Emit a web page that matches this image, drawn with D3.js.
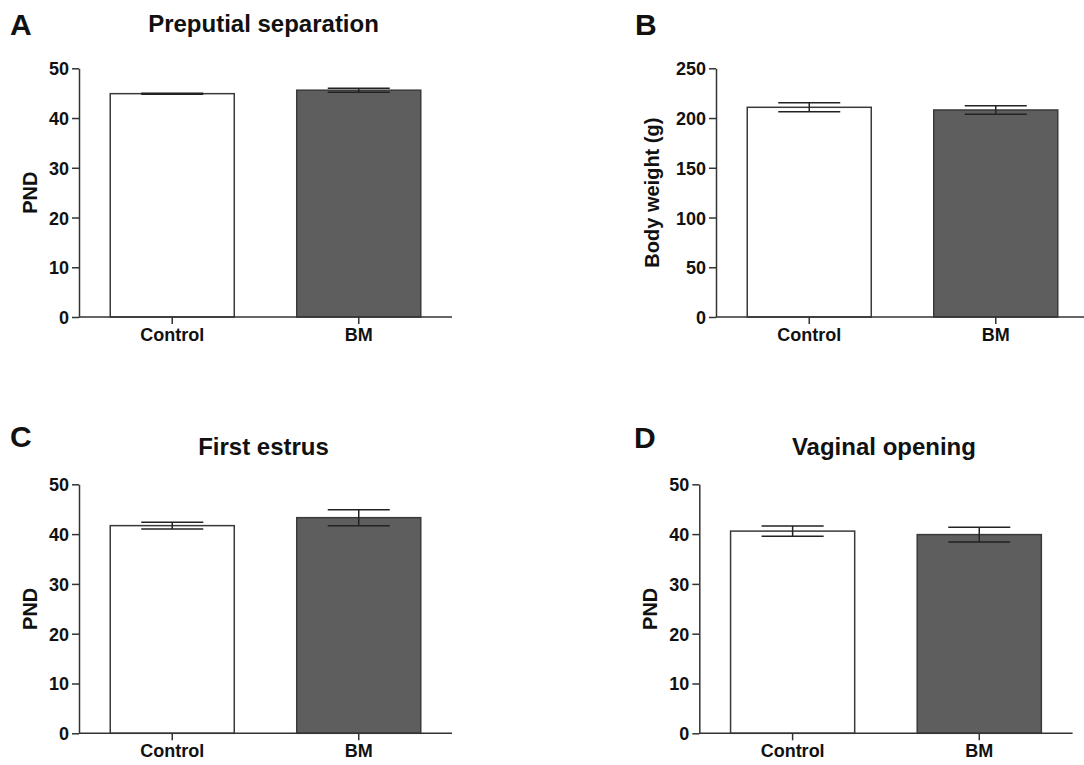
<!DOCTYPE html>
<html>
<head>
<meta charset="utf-8">
<script src="https://cdn.jsdelivr.net/npm/d3@7"></script>
<style>
  body { margin: 0; background: #fff; }
  text { font-family: "Liberation Sans", Arial, sans-serif; font-weight: bold; fill: #111; }
</style>
</head>
<body>
<svg id="chart" width="1084" height="765"></svg>
<script>
// data
var groups = ["Control", "BM"];
var letters = ["A", "B", "C", "D"];
var titles = ["Preputial separation", "", "First estrus", "Vaginal opening"];
var yLabels = ["PND", "Body weight (g)", "PND", "PND"];
var yMax = [50, 250, 50, 50];
var yStep = [10, 50, 10, 10];

var prepMean = [44.9, 45.6], prepSem = [0.1, 0.4];
var weightMean = [210.8, 208.1], weightSem = [4.6, 4.2];
var estrusMean = [41.7, 43.3], estrusSem = [0.7, 1.6];
var vaginalMean = [40.6, 39.9], vaginalSem = [1.05, 1.5];

var means = [prepMean, weightMean, estrusMean, vaginalMean];
var sems = [prepSem, weightSem, estrusSem, vaginalSem];
var fills = ["#ffffff", "#5e5e5e"];

/* panel layout: axis origin and extents */
var layout = [
  { x0: 79,    x1: 452,    y0: 68.3,  y1: 317,   lx: 10,  ly: 35,  ty: 32,  yl: 49 },
  { x0: 716,   x1: 1089,   y0: 68.3,  y1: 317,   lx: 635, ly: 35,  ty: 32,  yl: 64 },
  { x0: 79,    x1: 452,    y0: 484.3, y1: 733.3, lx: 10,  ly: 447, ty: 455, yl: 49 },
  { x0: 699.3, x1: 1072.6, y0: 484.3, y1: 733.3, lx: 634, ly: 448, ty: 455, yl: 49 }
];

var svg = d3.select("#chart");

layout.forEach(function(p, i) {
  var g = svg.append("g");

  var x = d3.scaleBand().domain(groups).range([p.x0, p.x1]).paddingInner(0.335).paddingOuter(0.1675);
  var y = d3.scaleLinear().domain([0, yMax[i]]).range([p.y1, p.y0]);

  var rows = groups.map(function(k, j) {
    return { name: k, mean: means[i][j], sem: sems[i][j], fill: fills[j] };
  });

  // bars
  g.selectAll("rect.bar")
    .data(rows)
    .enter().append("rect")
    .attr("class", "bar")
    .attr("x", function(d) { return x(d.name); })
    .attr("y", function(d) { return y(d.mean); })
    .attr("width", x.bandwidth())
    .attr("height", function(d) { return y(0) - y(d.mean); })
    .style("fill", function(d) { return d.fill; })
    .style("stroke", "#3a3a3a")
    .style("stroke-width", 1.5);

  // error bars
  var bw = x.bandwidth();
  var eb = g.selectAll("g.err").data(rows).enter().append("g").attr("class", "err")
    .style("stroke", "#222").style("stroke-width", 1.5);
  eb.append("line")
    .attr("x1", function(d) { return x(d.name) + bw / 2; })
    .attr("x2", function(d) { return x(d.name) + bw / 2; })
    .attr("y1", function(d) { return y(d.mean - d.sem); })
    .attr("y2", function(d) { return y(d.mean + d.sem); });
  [-1, 1].forEach(function(s) {
    eb.append("line")
      .attr("x1", function(d) { return x(d.name) + bw / 4; })
      .attr("x2", function(d) { return x(d.name) + bw * 3 / 4; })
      .attr("y1", function(d) { return y(d.mean + s * d.sem); })
      .attr("y2", function(d) { return y(d.mean + s * d.sem); });
  });

  // axes
  var yAxis = d3.axisLeft(y)
    .tickValues(d3.range(0, yMax[i] + 1, yStep[i]))
    .tickSize(7).tickSizeOuter(0).tickPadding(3);
  var ya = g.append("g").attr("transform", "translate(" + p.x0 + ",0)").call(yAxis);
  ya.selectAll("text").style("font-size", "18px").attr("dy", "0.36em");

  var xAxis = d3.axisBottom(x).tickSize(7).tickSizeOuter(0).tickPadding(4);
  var xa = g.append("g").attr("transform", "translate(0," + p.y1 + ")").call(xAxis);
  xa.selectAll("text").style("font-size", "18px");
  xa.select(".domain").attr("d", "M" + p.x0 + ",0H" + p.x1);

  svg.selectAll(".domain, .tick line").style("stroke", "#333").style("stroke-width", 1.5);

  // y label
  g.append("text")
    .attr("transform", "translate(" + (p.x0 - p.yl) + "," + ((p.y0 + p.y1) / 2) + ") rotate(-90)")
    .attr("text-anchor", "middle")
    .attr("dy", "0.35em")
    .style("font-size", "20px")
    .text(yLabels[i]);

  // title
  g.append("text")
    .attr("x", (p.x0 + p.x1) / 2 - 2)
    .attr("y", p.ty)
    .attr("text-anchor", "middle")
    .style("font-size", "24px")
    .text(titles[i]);

  // panel letter
  g.append("text")
    .attr("x", p.lx)
    .attr("y", p.ly)
    .style("font-size", "30px")
    .text(letters[i]);
});
</script>
</body>
</html>
